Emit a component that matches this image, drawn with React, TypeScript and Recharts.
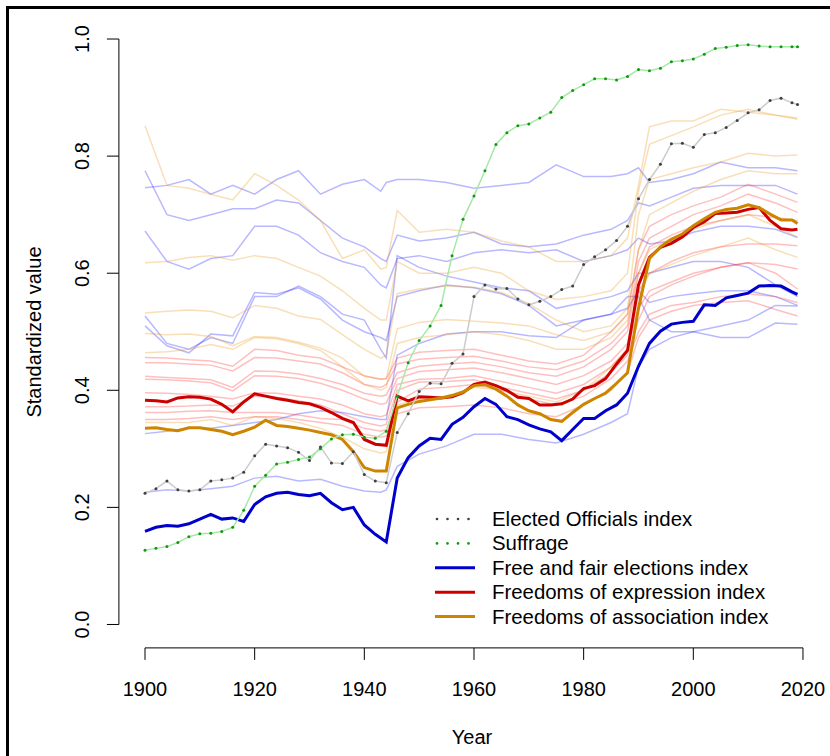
import React from 'react';
import { LineChart, Line, XAxis, YAxis, ReferenceLine, Customized } from 'recharts';

if (typeof document !== 'undefined') document.body.style.margin = '0';

const FONT = '"Liberation Sans", Arial, Helvetica, sans-serif';

// two-year grid for the five highlighted indices
const mainYears = [
  1900, 1902, 1904, 1906, 1908, 1910, 1912, 1914, 1916, 1918, 1920, 1922, 1924, 1926, 1928, 1930,
  1932, 1934, 1936, 1938, 1940, 1942, 1944, 1946, 1948, 1950, 1952, 1954, 1956, 1958, 1960, 1962,
  1964, 1966, 1968, 1970, 1972, 1974, 1976, 1978, 1980, 1982, 1984, 1986, 1988, 1990, 1992, 1994,
  1996, 1998, 2000, 2002, 2004, 2006, 2008, 2010, 2012, 2014, 2016, 2018, 2019,
];

const electedOfficials = [
  0.224, 0.232, 0.245, 0.23, 0.228, 0.23, 0.245, 0.247, 0.25, 0.26, 0.288, 0.308, 0.305, 0.302, 0.294, 0.28,
  0.303, 0.276, 0.275, 0.295, 0.256, 0.245, 0.242, 0.328, 0.36, 0.398, 0.412, 0.411, 0.446, 0.462, 0.56, 0.58,
  0.573, 0.574, 0.556, 0.546, 0.552, 0.56, 0.572, 0.578, 0.615, 0.628, 0.64, 0.656, 0.68, 0.727, 0.76, 0.786,
  0.821, 0.822, 0.815, 0.837, 0.84, 0.849, 0.861, 0.874, 0.879, 0.895, 0.899, 0.891, 0.888,
];

const suffrage = [
  0.127, 0.13, 0.133, 0.14, 0.15, 0.155, 0.156, 0.159, 0.166, 0.195, 0.236, 0.255, 0.274, 0.277, 0.282, 0.286,
  0.3, 0.317, 0.324, 0.325, 0.32, 0.318, 0.33, 0.39, 0.447, 0.485, 0.51, 0.545, 0.63, 0.692, 0.732, 0.775,
  0.82, 0.84, 0.852, 0.855, 0.865, 0.875, 0.9, 0.912, 0.922, 0.932, 0.932, 0.93, 0.936, 0.948, 0.946, 0.95,
  0.961, 0.963, 0.966, 0.974, 0.984, 0.986, 0.989, 0.99, 0.988, 0.987, 0.987, 0.987, 0.987,
];

const freeFairElections = [
  0.159, 0.166, 0.169, 0.168, 0.172, 0.18, 0.188, 0.18, 0.182, 0.176, 0.205, 0.218, 0.224, 0.226, 0.222, 0.22,
  0.224, 0.208, 0.196, 0.2, 0.17, 0.154, 0.141, 0.25, 0.285, 0.305, 0.318, 0.316, 0.342, 0.354, 0.372, 0.386,
  0.376, 0.355, 0.35, 0.341, 0.334, 0.329, 0.314, 0.333, 0.352, 0.352, 0.365, 0.375, 0.395, 0.441, 0.48, 0.501,
  0.513, 0.516, 0.518, 0.546, 0.545, 0.558, 0.562, 0.566, 0.578, 0.579, 0.578, 0.568, 0.564,
];

const freedomExpression = [
  0.383, 0.382, 0.38, 0.387, 0.389, 0.388, 0.385, 0.376, 0.363, 0.38, 0.394, 0.39, 0.386, 0.383, 0.379, 0.377,
  0.371, 0.362, 0.352, 0.345, 0.316, 0.308, 0.306, 0.39, 0.382, 0.389, 0.388, 0.387, 0.389, 0.396, 0.41, 0.414,
  0.408, 0.4, 0.388, 0.386, 0.375, 0.375, 0.377, 0.385, 0.403, 0.408, 0.42, 0.445, 0.468, 0.58, 0.627, 0.644,
  0.651, 0.662, 0.678, 0.688, 0.702, 0.703, 0.704, 0.709, 0.712, 0.69, 0.676, 0.674, 0.675,
];

const freedomAssociation = [
  0.335, 0.336, 0.333, 0.331, 0.336, 0.336, 0.333, 0.33, 0.324, 0.33, 0.337, 0.349, 0.34, 0.338, 0.335, 0.332,
  0.328, 0.324, 0.316, 0.295, 0.268, 0.262, 0.262, 0.37, 0.376, 0.381, 0.384, 0.387, 0.391, 0.397, 0.408, 0.41,
  0.402, 0.39, 0.375, 0.365, 0.36, 0.35, 0.347, 0.362, 0.376, 0.386, 0.395, 0.412, 0.43, 0.54, 0.625, 0.645,
  0.658, 0.667, 0.681, 0.693, 0.704, 0.709, 0.711, 0.717, 0.712, 0.701, 0.691, 0.691, 0.685,
];

// coarser grid for the faint component indicators
const componentYears = [
  1900, 1904, 1908, 1912, 1916, 1920, 1924, 1928, 1932, 1936, 1940, 1943, 1944, 1946, 1950, 1955,
  1960, 1965, 1970, 1975, 1980, 1985, 1988, 1990, 1992, 1996, 2000, 2005, 2010, 2015, 2019,
];

const electionComponents = [
  [0.746, 0.75, 0.76, 0.735, 0.75, 0.735, 0.76, 0.775, 0.735, 0.752, 0.76, 0.74, 0.755, 0.76, 0.76, 0.755, 0.745, 0.75, 0.755, 0.785, 0.765, 0.765, 0.77, 0.78, 0.755, 0.76, 0.77, 0.79, 0.78, 0.78, 0.775],
  [0.775, 0.7, 0.69, 0.7, 0.71, 0.71, 0.725, 0.72, 0.69, 0.66, 0.645, 0.625, 0.62, 0.665, 0.655, 0.66, 0.67, 0.65, 0.645, 0.65, 0.665, 0.675, 0.69, 0.72, 0.715, 0.73, 0.745, 0.75, 0.75, 0.75, 0.735],
  [0.672, 0.62, 0.607, 0.625, 0.63, 0.68, 0.68, 0.665, 0.635, 0.62, 0.61, 0.58, 0.575, 0.625, 0.63, 0.62, 0.635, 0.64, 0.635, 0.64, 0.62, 0.63, 0.64, 0.66, 0.65, 0.655, 0.67, 0.68, 0.68, 0.675, 0.661],
  [0.527, 0.48, 0.47, 0.49, 0.48, 0.56, 0.56, 0.578, 0.56, 0.53, 0.52, 0.47, 0.455, 0.63, 0.61, 0.595, 0.585, 0.575, 0.57, 0.54, 0.55, 0.56, 0.57, 0.6, 0.6, 0.61, 0.62, 0.62, 0.61, 0.58, 0.56],
  [0.51, 0.476, 0.464, 0.496, 0.493, 0.567, 0.564, 0.575, 0.556, 0.52, 0.5, 0.49, 0.485, 0.56, 0.57, 0.58, 0.575, 0.565, 0.545, 0.51, 0.52, 0.53, 0.54, 0.57, 0.55, 0.56, 0.565, 0.57, 0.57, 0.56, 0.545],
  [0.326, 0.33, 0.335, 0.335, 0.34, 0.345, 0.35, 0.36, 0.365, 0.362, 0.355, 0.35, 0.35, 0.46, 0.48, 0.496, 0.5, 0.5, 0.493, 0.49, 0.52, 0.53, 0.56, 0.56, 0.52, 0.5, 0.5, 0.49, 0.49, 0.515, 0.513],
  [0.226, 0.23, 0.228, 0.232, 0.236, 0.25, 0.253, 0.245, 0.248, 0.236, 0.228, 0.226, 0.23, 0.27, 0.291, 0.305, 0.325, 0.325, 0.316, 0.31, 0.325, 0.345, 0.36, 0.44, 0.47, 0.49, 0.5, 0.51, 0.52, 0.545, 0.544],
];

const expressionComponents = [
  [0.456, 0.455, 0.452, 0.45, 0.441, 0.47, 0.468, 0.46, 0.455, 0.44, 0.425, 0.419, 0.42, 0.455, 0.465, 0.468, 0.47, 0.46, 0.45, 0.445, 0.46, 0.5, 0.53, 0.64, 0.68, 0.7, 0.715, 0.73, 0.752, 0.735, 0.721],
  [0.447, 0.447, 0.445, 0.443, 0.433, 0.456, 0.455, 0.45, 0.445, 0.43, 0.41, 0.405, 0.41, 0.445, 0.453, 0.456, 0.458, 0.45, 0.44, 0.435, 0.45, 0.48, 0.51, 0.62, 0.66, 0.68, 0.7, 0.715, 0.735, 0.72, 0.704],
  [0.424, 0.422, 0.42, 0.418, 0.405, 0.433, 0.432, 0.428, 0.42, 0.41, 0.395, 0.39, 0.392, 0.43, 0.441, 0.445, 0.448, 0.44, 0.43, 0.424, 0.44, 0.47, 0.5, 0.6, 0.645, 0.665, 0.68, 0.69, 0.7, 0.695, 0.69],
  [0.419, 0.418, 0.416, 0.413, 0.399, 0.425, 0.424, 0.42, 0.412, 0.4, 0.385, 0.376, 0.378, 0.42, 0.432, 0.435, 0.438, 0.43, 0.42, 0.41, 0.425, 0.45, 0.48, 0.57, 0.6, 0.62, 0.635, 0.645, 0.65, 0.65, 0.647],
  [0.396, 0.395, 0.393, 0.39, 0.385, 0.396, 0.395, 0.39, 0.385, 0.375, 0.36, 0.355, 0.358, 0.41, 0.419, 0.42, 0.425, 0.415, 0.405, 0.395, 0.41, 0.44, 0.47, 0.54, 0.57, 0.585, 0.6, 0.61, 0.618, 0.615, 0.607],
  [0.372, 0.372, 0.373, 0.375, 0.373, 0.39, 0.388, 0.382, 0.375, 0.36, 0.345, 0.339, 0.342, 0.4, 0.414, 0.415, 0.418, 0.405, 0.395, 0.385, 0.4, 0.43, 0.46, 0.52, 0.56, 0.58, 0.595, 0.61, 0.618, 0.6, 0.573],
  [0.362, 0.362, 0.364, 0.365, 0.362, 0.362, 0.362, 0.358, 0.352, 0.35, 0.335, 0.33, 0.333, 0.38, 0.402, 0.405, 0.41, 0.4, 0.385, 0.375, 0.39, 0.42, 0.45, 0.5, 0.53, 0.545, 0.55, 0.56, 0.565, 0.56, 0.55],
  [0.35, 0.35, 0.352, 0.355, 0.35, 0.355, 0.355, 0.35, 0.345, 0.34, 0.325, 0.32, 0.322, 0.36, 0.37, 0.372, 0.375, 0.37, 0.36, 0.355, 0.375, 0.4, 0.43, 0.49, 0.52, 0.535, 0.545, 0.55, 0.553, 0.538, 0.527],
];

const associationComponents = [
  [0.852, 0.75, 0.745, 0.735, 0.725, 0.77, 0.75, 0.725, 0.69, 0.625, 0.64, 0.607, 0.61, 0.707, 0.67, 0.675, 0.67, 0.655, 0.645, 0.62, 0.62, 0.63, 0.66, 0.75, 0.85, 0.86, 0.86, 0.88, 0.875, 0.87, 0.863],
  [0.618, 0.62, 0.627, 0.63, 0.622, 0.63, 0.625, 0.61, 0.595, 0.57, 0.54, 0.52, 0.52, 0.62, 0.6, 0.6, 0.61, 0.6, 0.57, 0.555, 0.56, 0.57, 0.6, 0.74, 0.82, 0.835, 0.85, 0.87, 0.88, 0.87, 0.865],
  [0.532, 0.535, 0.537, 0.535, 0.524, 0.545, 0.54, 0.527, 0.521, 0.495, 0.47, 0.455, 0.46, 0.565, 0.573, 0.578, 0.576, 0.567, 0.548, 0.52, 0.5, 0.51, 0.54, 0.7, 0.76, 0.77, 0.78, 0.79, 0.805, 0.8, 0.802],
  [0.497, 0.495, 0.496, 0.492, 0.476, 0.492, 0.49, 0.482, 0.472, 0.455, 0.424, 0.419, 0.42, 0.505, 0.516, 0.521, 0.518, 0.515, 0.51, 0.495, 0.485, 0.5, 0.53, 0.64, 0.7, 0.72, 0.74, 0.76, 0.775, 0.77, 0.77],
  [0.464, 0.466, 0.47, 0.478, 0.47, 0.49, 0.488, 0.48, 0.468, 0.44, 0.41, 0.4, 0.405, 0.48, 0.49, 0.495, 0.5, 0.495, 0.485, 0.47, 0.47, 0.49, 0.52, 0.6, 0.64, 0.66, 0.675, 0.69, 0.7, 0.68, 0.662],
  [0.345, 0.345, 0.345, 0.35, 0.34, 0.355, 0.352, 0.345, 0.335, 0.32, 0.3, 0.293, 0.295, 0.375, 0.385, 0.39, 0.405, 0.4, 0.39, 0.38, 0.4, 0.44, 0.47, 0.56, 0.6, 0.615, 0.63, 0.645, 0.66, 0.64, 0.627],
];

const xTicks = [1900, 1920, 1940, 1960, 1980, 2000, 2020];
const yTicks = [0, 0.2, 0.4, 0.6, 0.8, 1.0];

const BLUE = '#0000cd';
const RED = '#cd0000';
const ORANGE = '#cd8500';

const legendItems = [
  { label: 'Elected Officials index', dots: true, color: '#404040' },
  { label: 'Suffrage', dots: true, color: '#109a10' },
  { label: 'Free and fair elections index', dots: false, color: BLUE },
  { label: 'Freedoms of expression index', dots: false, color: RED },
  { label: 'Freedoms of association index', dots: false, color: ORANGE },
];

const toPoints = (years: number[], values: number[]) =>
  years.map((year, i) => ({ year, v: values[i] }));

function XTick(props: any) {
  const { x, y, payload } = props;
  return (
    <text x={x} y={y + 34} textAnchor="middle" fontFamily={FONT} fontSize={20} fill="#000">
      {payload.value}
    </text>
  );
}

function YTick(props: any) {
  const { x, y, payload } = props;
  const lx = x - 16;
  return (
    <text
      x={lx}
      y={y}
      transform={`rotate(-90, ${lx}, ${y})`}
      textAnchor="middle"
      fontFamily={FONT}
      fontSize={20}
      fill="#000"
    >
      {Number(payload.value).toFixed(1)}
    </text>
  );
}

function Decorations() {
  return (
    <g>
      {/* outer frame (only left and top edges are visible) */}
      <line x1={7.5} y1={6} x2={7.5} y2={756} stroke="#000" strokeWidth={3} />
      <line x1={6} y1={7.5} x2={830} y2={7.5} stroke="#000" strokeWidth={3} />

      <text x={472} y={744} textAnchor="middle" fontFamily={FONT} fontSize={20} fill="#000">
        Year
      </text>
      <text
        x={41}
        y={332}
        transform="rotate(-90, 41, 332)"
        textAnchor="middle"
        fontFamily={FONT}
        fontSize={20}
        fill="#000"
      >
        Standardized value
      </text>

      {legendItems.map((item, i) => {
        const cy = 519 + i * 24.4;
        return (
          <g key={item.label}>
            {item.dots ? (
              [437, 447.5, 458, 468.5].map((cx) => (
                <circle key={cx} cx={cx} cy={cy} r={1.3} fill={item.color} />
              ))
            ) : (
              <line x1={435} y1={cy} x2={475} y2={cy} stroke={item.color} strokeWidth={3} />
            )}
            <text x={492} y={cy + 7} fontFamily={FONT} fontSize={20.4} fill="#000">
              {item.label}
            </text>
          </g>
        );
      })}
    </g>
  );
}

export default function App() {
  return (
    <div style={{ width: 830, height: 756, background: '#fff' }}>
      <LineChart width={830} height={756} margin={{ top: 15.6, right: 6.4, bottom: 68.1, left: 78.9 }}>
        <XAxis
          type="number"
          dataKey="year"
          domain={[1895.24, 2023.76]}
          ticks={xTicks}
          interval={0}
          allowDataOverflow
          axisLine={false}
          stroke="#000"
          tickSize={12}
          height={40}
          tick={<XTick />}
        />
        <YAxis
          type="number"
          domain={[-0.04, 1.04]}
          ticks={yTicks}
          interval={0}
          allowDataOverflow
          axisLine={false}
          stroke="#000"
          tickSize={12}
          width={40}
          tick={<YTick />}
        />
        <ReferenceLine
          segment={[{ x: 1900, y: -0.04 }, { x: 2020, y: -0.04 }]}
          stroke="#000"
          ifOverflow="visible"
        />
        <ReferenceLine
          segment={[{ x: 1895.24, y: 0 }, { x: 1895.24, y: 1 }]}
          stroke="#000"
          ifOverflow="visible"
        />

        {electionComponents.map((vals, i) => (
          <Line
            key={`b${i}`}
            data={toPoints(componentYears, vals)}
            dataKey="v"
            type="linear"
            stroke="rgba(0,0,255,0.28)"
            strokeWidth={1.5}
            dot={false}
            isAnimationActive={false}
          />
        ))}
        {expressionComponents.map((vals, i) => (
          <Line
            key={`r${i}`}
            data={toPoints(componentYears, vals)}
            dataKey="v"
            type="linear"
            stroke="rgba(255,0,0,0.25)"
            strokeWidth={1.5}
            dot={false}
            isAnimationActive={false}
          />
        ))}
        {associationComponents.map((vals, i) => (
          <Line
            key={`o${i}`}
            data={toPoints(componentYears, vals)}
            dataKey="v"
            type="linear"
            stroke="rgba(235,150,20,0.3)"
            strokeWidth={1.5}
            dot={false}
            isAnimationActive={false}
          />
        ))}

        <Line
          data={toPoints(mainYears, freeFairElections)}
          dataKey="v"
          type="linear"
          stroke={BLUE}
          strokeWidth={3}
          dot={false}
          isAnimationActive={false}
        />
        <Line
          data={toPoints(mainYears, freedomExpression)}
          dataKey="v"
          type="linear"
          stroke={RED}
          strokeWidth={3}
          dot={false}
          isAnimationActive={false}
        />
        <Line
          data={toPoints(mainYears, freedomAssociation)}
          dataKey="v"
          type="linear"
          stroke={ORANGE}
          strokeWidth={3}
          dot={false}
          isAnimationActive={false}
        />
        <Line
          data={toPoints(mainYears, electedOfficials)}
          dataKey="v"
          type="linear"
          stroke="#cccccc"
          strokeWidth={1.5}
          dot={{ r: 1.5, fill: '#404040', stroke: 'none' }}
          isAnimationActive={false}
        />
        <Line
          data={toPoints(mainYears, suffrage)}
          dataKey="v"
          type="linear"
          stroke="#a6e8a6"
          strokeWidth={1.5}
          dot={{ r: 1.5, fill: '#109a10', stroke: 'none' }}
          isAnimationActive={false}
        />

        <Customized component={<Decorations />} />
      </LineChart>
    </div>
  );
}
